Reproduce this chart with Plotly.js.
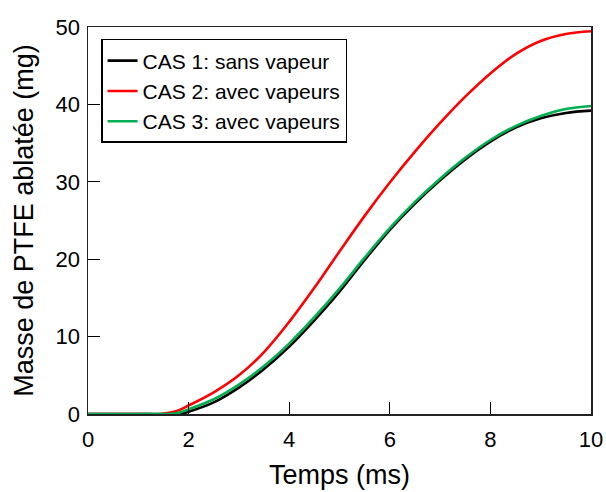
<!DOCTYPE html>
<html>
<head>
<meta charset="utf-8">
<script src="https://cdn.plot.ly/plotly-3.0.1.min.js"></script>
<style>html,body{margin:0;padding:0;background:#fff;}</style>
</head>
<body>
<div id="chart" style="width:606px;height:492px;"></div>
<script>
// Time (ms) and ablated PTFE mass (mg)
const timeCas1 = [0, 1.0, 1.6, 1.85, 2.0, 2.5, 3.0, 3.5, 4.0, 4.5, 5.0, 5.5, 6.0, 6.5, 7.0, 7.5, 8.0, 8.5, 9.0, 9.5, 10.0];
const massCas1 = [0, 0, 0, 0.05, 0.3, 1.5, 3.4, 5.8, 8.7, 12.1, 15.8, 19.9, 23.8, 27.2, 30.2, 32.9, 35.2, 37.0, 38.2, 38.9, 39.2];

const timeCas2 = [0, 1.0, 1.45, 1.75, 2.0, 2.5, 3.0, 3.5, 4.0, 4.5, 5.0, 5.5, 6.0, 6.5, 7.0, 7.5, 8.0, 8.5, 9.0, 9.5, 10.0];
const massCas2 = [0, 0, 0, 0.35, 1.1, 2.8, 5.0, 8.0, 11.9, 16.3, 21.0, 25.6, 29.9, 33.9, 37.6, 41.0, 44.0, 46.5, 48.2, 49.1, 49.45];

const timeCas3 = [0, 1.0, 1.55, 1.8, 2.0, 2.5, 3.0, 3.5, 4.0, 4.5, 5.0, 5.5, 6.0, 6.5, 7.0, 7.5, 8.0, 8.5, 9.0, 9.5, 10.0];
const massCas3 = [0, 0, 0, 0.15, 0.6, 1.9, 3.8, 6.2, 9.1, 12.5, 16.2, 20.2, 24.0, 27.4, 30.4, 33.1, 35.4, 37.2, 38.5, 39.4, 39.8];

const seriesNames = ["CAS 1: sans vapeur", "CAS 2: avec vapeurs", "CAS 3: avec vapeurs"];
const seriesColors = ["#000000", "#ff0000", "#00b050"];

const xTicks = [0, 2, 4, 6, 8, 10];
const yTicks = [0, 10, 20, 30, 40, 50];

const xs = [timeCas1, timeCas2, timeCas3];
const ys = [massCas1, massCas2, massCas3];

const traces = xs.map((x, i) => ({
  x: x, y: ys[i], type: 'scatter', mode: 'lines',
  name: seriesNames[i],
  line: {color: seriesColors[i], width: 2.6, shape: 'spline', smoothing: 1}
}));

const fontFam = '"Liberation Sans", Arial, sans-serif';
const layout = {
  width: 606, height: 492,
  margin: {l: 88, r: 15, t: 27, b: 78},
  paper_bgcolor: '#fff', plot_bgcolor: '#fff',
  font: {family: fontFam, color: '#000', size: 22},
  showlegend: true,
  legend: {
    x: 0.026, y: 0.969, xanchor: 'left', yanchor: 'top',
    bordercolor: '#000', borderwidth: 1.5, bgcolor: '#fff',
    font: {family: fontFam, size: 21, color: '#000'}
  },
  xaxis: {
    range: [0, 10], tickvals: xTicks, ticktext: xTicks.map(String),
    showgrid: false, zeroline: false,
    showline: true, mirror: true, linecolor: '#222', linewidth: 1.5,
    ticks: 'inside', ticklen: 12, tickwidth: 1.3, tickcolor: '#000',
    ticklabelstandoff: 5,
    tickfont: {family: fontFam, size: 22, color: '#000'},
    title: {text: 'Temps (ms)', font: {family: fontFam, size: 27, color: '#000'}, standoff: 14}
  },
  yaxis: {
    range: [0, 50], tickvals: yTicks, ticktext: yTicks.map(String),
    showgrid: false, zeroline: false,
    showline: true, mirror: true, linecolor: '#222', linewidth: 1.5,
    ticks: 'inside', ticklen: 12, tickwidth: 1.3, tickcolor: '#000',
    ticklabelstandoff: 2,
    tickfont: {family: fontFam, size: 22, color: '#000'},
    title: {text: 'Masse de PTFE ablatée (mg)', font: {family: fontFam, size: 27, color: '#000'}, standoff: 14}
  }
};

Plotly.newPlot('chart', traces, layout, {displayModeBar: false, staticPlot: true});
</script>
</body>
</html>
